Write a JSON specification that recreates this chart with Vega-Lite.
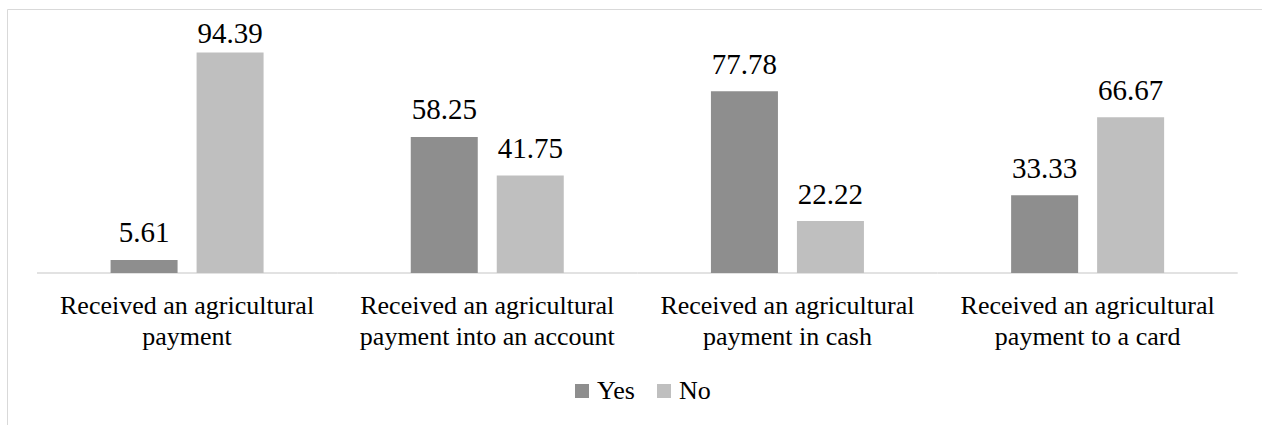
{
  "$schema": "https://vega.github.io/schema/vega-lite/v6.json",
  "width": 1255,
  "height": 416,
  "autosize": {"type": "none"},
  "padding": {"left": 7, "top": 9, "right": 0, "bottom": 0},
  "background": "white",
  "config": {
    "view": {"stroke": null}
  },
  "data": {
    "values": [
      {"category": "Received an agricultural\npayment", "series": "Yes", "value": 5.61},
      {"category": "Received an agricultural\npayment", "series": "No", "value": 94.39},
      {"category": "Received an agricultural\npayment into an account", "series": "Yes", "value": 58.25},
      {"category": "Received an agricultural\npayment into an account", "series": "No", "value": 41.75},
      {"category": "Received an agricultural\npayment in cash", "series": "Yes", "value": 77.78},
      {"category": "Received an agricultural\npayment in cash", "series": "No", "value": 22.22},
      {"category": "Received an agricultural\npayment to a card", "series": "Yes", "value": 33.33},
      {"category": "Received an agricultural\npayment to a card", "series": "No", "value": 66.67}
    ]
  },
  "encoding": {
    "x": {
      "field": "category",
      "type": "nominal",
      "sort": [
        "Received an agricultural\npayment",
        "Received an agricultural\npayment into an account",
        "Received an agricultural\npayment in cash",
        "Received an agricultural\npayment to a card"
      ],
      "scale": {"paddingInner": 0, "paddingOuter": 0.0904, "align": 0.5525},
      "axis": {"orient": "top", "labels": false, "ticks": false, "title": null, "grid": false, "domainColor": "#d9d9d9", "domainWidth": 1}
    }
  },
  "layer": [
    {
      "transform": [{"filter": "datum.series == 'Yes'"}],
      "mark": {"type": "rect", "fillOpacity": 0, "stroke": "#d9d9d9", "strokeWidth": 1.3},
      "encoding": {
        "y": {"datum": 0, "type": "quantitative", "scale": {"domain": [-65.07, 113.01], "nice": false, "zero": false}, "axis": {"orient": "left", "labels": false, "ticks": false, "title": null, "grid": false, "domainColor": "#d9d9d9", "domainWidth": 1}},
        "y2": {"datum": 0}
      }
    },
    {
      "mark": {"type": "bar"},
      "encoding": {
        "xOffset": {"field": "series", "type": "nominal", "sort": ["Yes", "No"], "scale": {"paddingInner": 0.2209, "paddingOuter": 0.8557}},
        "y": {"field": "value", "type": "quantitative", "stack": null, "scale": {"domain": [-65.07, 113.01], "nice": false, "zero": false}, "axis": {"orient": "left", "labels": false, "ticks": false, "title": null, "grid": false, "domainColor": "#d9d9d9", "domainWidth": 1}},
        "y2": {"datum": 0},
        "color": {
          "field": "series",
          "type": "nominal",
          "sort": ["Yes", "No"],
          "scale": {"domain": ["Yes", "No"], "range": ["#8e8e8e", "#bfbfbf"]},
          "legend": {
            "orient": "none",
            "legendX": 562,
            "legendY": 369,
            "direction": "horizontal",
            "title": null,
            "symbolType": "square",
            "symbolSize": 196,
            "symbolStrokeWidth": 0,
            "labelFont": "Tinos, Nimbus Roman, Nimbus Roman No9 L, FreeSerif, Noto Serif, Liberation Sans",
            "labelFontSize": 26,
            "labelColor": "#000000",
            "labelOffset": 2,
            "columnPadding": 16,
            "padding": 0
          }
        }
      }
    },
    {
      "transform": [{"filter": "datum.value < 90"}],
      "mark": {"type": "text", "font": "Tinos, Nimbus Roman, Nimbus Roman No9 L, FreeSerif, Noto Serif, Liberation Sans", "fontSize": 29, "baseline": "alphabetic", "dy": -17.5, "color": "#000000"},
      "encoding": {
        "xOffset": {"field": "series", "type": "nominal", "sort": ["Yes", "No"], "scale": {"paddingInner": 0.2209, "paddingOuter": 0.8557}},
        "y": {"field": "value", "type": "quantitative"},
        "text": {"field": "value", "type": "quantitative", "format": ".2f"}
      }
    },
    {
      "transform": [{"filter": "datum.value >= 90"}],
      "mark": {"type": "text", "font": "Tinos, Nimbus Roman, Nimbus Roman No9 L, FreeSerif, Noto Serif, Liberation Sans", "fontSize": 29, "baseline": "alphabetic", "dy": -9.7, "color": "#000000"},
      "encoding": {
        "xOffset": {"field": "series", "type": "nominal", "sort": ["Yes", "No"], "scale": {"paddingInner": 0.2209, "paddingOuter": 0.8557}},
        "y": {"field": "value", "type": "quantitative"},
        "text": {"field": "value", "type": "quantitative", "format": ".2f"}
      }
    },
    {
      "transform": [{"filter": "datum.series == 'Yes'"}],
      "mark": {"type": "text", "font": "Tinos, Nimbus Roman, Nimbus Roman No9 L, FreeSerif, Noto Serif, Liberation Sans", "fontSize": 26, "baseline": "alphabetic", "dy": 41.3, "lineBreak": "\n", "lineHeight": 31, "color": "#000000"},
      "encoding": {
        "y": {"datum": 0, "type": "quantitative"},
        "text": {"field": "category", "type": "nominal"}
      }
    }
  ]
}
